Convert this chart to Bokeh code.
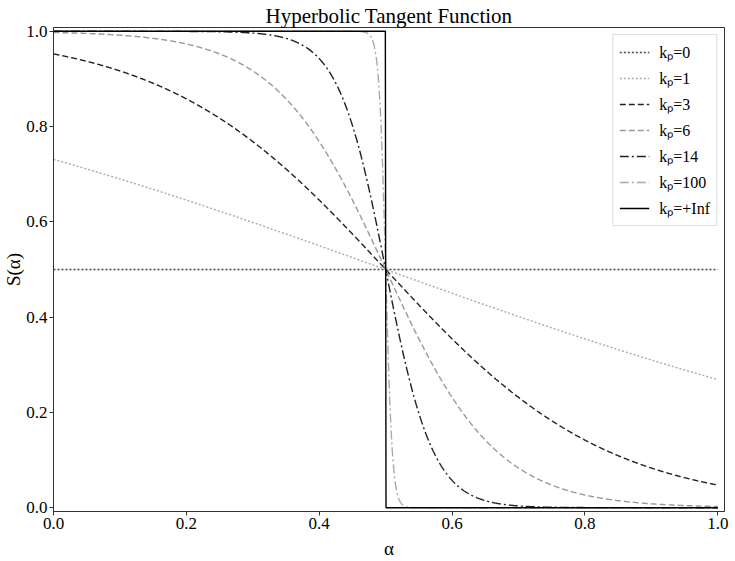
import numpy as np
from bokeh.plotting import figure
from bokeh.models import Range1d, FixedTicker, Legend, LegendItem, NumeralTickFormatter, Title
from bokeh.embed import file_html
from bokeh.resources import INLINE

kp_values = [0, 1, 3, 6, 14, 100, np.inf]
labels = ["kₚ=0", "kₚ=1", "kₚ=3", "kₚ=6", "kₚ=14", "kₚ=100", "kₚ=+Inf"]
colors = ["#444444", "#aaaaaa", "#222222", "#999999", "#222222", "#aaaaaa", "#000000"]
dashes = ["2 2", "2 2", "6 3", "6 3", "9 3 2 3", "9 3 2 3", "solid"]
ticks = [0.0, 0.2, 0.4, 0.6, 0.8, 1.0]

alpha = np.linspace(0, 1, 2001)

def S(a, k):
    if np.isinf(k):
        return np.where(a < 0.5, 1.0, np.where(a > 0.5, 0.0, 0.5))
    return 0.5 * (1 - np.tanh(k * (a - 0.5)))

SERIF = "Liberation Serif"

p = figure(width=735, height=561, output_backend="svg", toolbar_location=None,
           x_range=Range1d(0, 1.01), y_range=Range1d(-0.008, 1.008),
           min_border_left=0, min_border_right=11, min_border_bottom=44, min_border_top=27)
p.title.text = "Hyperbolic Tangent Function"
p.title.align = "center"
p.title.text_font = SERIF
p.title.text_font_size = "21px"
p.title.text_font_style = "normal"
p.title.text_color = "black"
p.title.standoff = 0
p.title.offset = 0

p.xgrid.visible = False
p.ygrid.visible = False
p.outline_line_color = "#333333"
p.outline_line_width = 1
p.background_fill_color = "white"

for ax in (p.xaxis[0], p.yaxis[0]):
    ax.ticker = FixedTicker(ticks=ticks)
    ax.formatter = NumeralTickFormatter(format="0.0")
    ax.major_label_text_font = SERIF
    ax.major_label_text_font_size = "17px"
    ax.major_label_text_color = "black"
    ax.axis_label_text_font = SERIF
    ax.axis_label_text_font_size = "19px"
    ax.axis_label_text_font_style = "normal"
    ax.axis_label_text_color = "black"
    ax.minor_tick_line_color = None
    ax.major_tick_out = 4
    ax.major_tick_in = 0
    ax.axis_line_color = "#333333"
    ax.major_tick_line_color = "#333333"
    ax.major_label_standoff = 2
p.xaxis.axis_label = "α"
p.xaxis.axis_label_standoff = 6

ytitle = Title(text="S(α)", align="center", text_font=SERIF, text_font_size="19px",
               text_font_style="normal", text_color="black", standoff=0, offset=0)
p.add_layout(ytitle, "left")

items = []
for k, lab, c, d in zip(kp_values, labels, colors, dashes):
    r = p.line(alpha, S(alpha, k), line_color=c, line_dash=d, line_width=1.4)
    items.append(LegendItem(label=lab, renderers=[r]))

legend = Legend(items=items, location="top_right")
legend.label_text_font = SERIF
legend.label_text_font_size = "16px"
legend.label_text_color = "black"
legend.border_line_color = "#dddddd"
legend.border_line_alpha = 1
legend.background_fill_alpha = 0.8
legend.glyph_width = 30
legend.glyph_height = 20
legend.label_height = 20
legend.spacing = 4
legend.padding = 6
legend.margin = 7
legend.label_standoff = 10
p.add_layout(legend, "center")

open("out.html", "w").write(file_html(p, INLINE))
